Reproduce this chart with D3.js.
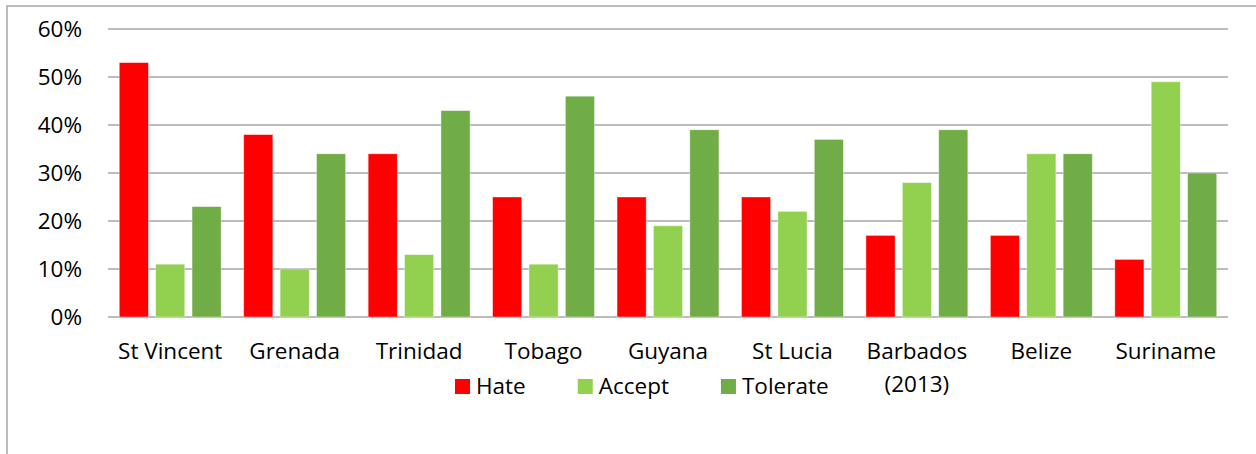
<!DOCTYPE html>
<html>
<head>
<meta charset="utf-8">
<script src="https://cdn.jsdelivr.net/npm/d3@7"></script>
<style>
  body { margin: 0; background: #fff; }
  svg { display: block; font-family: "Open Sans", sans-serif; }
</style>
</head>
<body>
<div id="chart"></div>
<script>
(function () {
    const width = 1256;
    const height = 454;

    // data
    const countries = ['St Vincent', 'Grenada', 'Trinidad', 'Tobago', 'Guyana', 'St Lucia', 'Barbados\n(2013)', 'Belize', 'Suriname'];
    const seriesNames = ['Hate', 'Accept', 'Tolerate'];
    const hate = [53, 38, 34, 25, 25, 25, 17, 17, 12];
    const accept = [11, 10, 13, 11, 19, 22, 28, 34, 49];
    const tolerate = [23, 34, 43, 46, 39, 37, 39, 34, 30];
    const yTicks = [0, 10, 20, 30, 40, 50, 60];
    const colors = ['#ff0000', '#92d050', '#70ad47'];

    const seriesValues = [hate, accept, tolerate];
    const rows = countries.map((c, i) => ({
        country: c,
        values: seriesNames.map((s, j) => ({ key: s, value: seriesValues[j][i] }))
    }));

    const plot = { left: 108, right: 1228, top: 29, bottom: 317 };
    const fontSize = 22.5;

    const svg = d3.select('#chart').append('svg')
        .attr('width', width)
        .attr('height', height);

    // chart border
    svg.append('rect')
        .attr('x', 7).attr('y', 6)
        .attr('width', width + 20).attr('height', height + 20)
        .attr('fill', 'none')
        .attr('stroke', '#a6a6a6')
        .attr('stroke-width', 1.5);

    const x0 = d3.scaleBand()
        .domain(countries)
        .range([plot.left, plot.right])
        .paddingInner(0).paddingOuter(0);

    const x1 = d3.scaleBand()
        .domain(seriesNames)
        .range([0, x0.bandwidth()])
        .paddingInner(0.2)
        .paddingOuter(0.31);

    const y = d3.scaleLinear()
        .domain([0, 60])
        .range([plot.bottom, plot.top]);

    // gridlines
    svg.append('g').selectAll('line')
        .data(yTicks)
        .enter().append('line')
        .attr('x1', plot.left).attr('x2', plot.right)
        .attr('y1', d => y(d)).attr('y2', d => y(d))
        .attr('stroke', '#a6a6a6')
        .attr('stroke-width', 1.5);

    // y labels
    svg.append('g').selectAll('text')
        .data(yTicks)
        .enter().append('text')
        .attr('x', 82)
        .attr('y', d => y(d))
        .attr('dy', '0.35em')
        .attr('text-anchor', 'end')
        .attr('font-size', fontSize)
        .attr('fill', '#000')
        .text(d => d + '%');

    // bars
    const groups = svg.append('g').selectAll('g')
        .data(rows)
        .enter().append('g')
        .attr('transform', d => `translate(${x0(d.country)},0)`);

    groups.selectAll('rect')
        .data(d => d.values)
        .enter().append('rect')
        .attr('x', d => x1(d.key))
        .attr('width', x1.bandwidth())
        .attr('y', d => y(d.value))
        .attr('height', d => y(0) - y(d.value))
        .attr('fill', (d, i) => colors[i])
        .attr('stroke', 'rgba(255,255,255,0.5)')
        .attr('stroke-width', 0.75);

    // category labels
    const catLabels = svg.append('g').selectAll('text')
        .data(countries)
        .enter().append('text')
        .attr('x', d => x0(d) + x0.bandwidth() / 2)
        .attr('y', 359)
        .attr('text-anchor', 'middle')
        .attr('font-size', fontSize)
        .attr('fill', '#000');

    catLabels.selectAll('tspan')
        .data(d => d.split('\n'))
        .enter().append('tspan')
        .attr('x', function () { return d3.select(this.parentNode).attr('x'); })
        .attr('dy', (d, i) => i === 0 ? 0 : 33)
        .text(d => d);

    // legend
    const legend = svg.append('g').attr('transform', 'translate(455,379)');
    let lx = 0;
    seriesNames.forEach((s, i) => {
        const item = legend.append('g').attr('transform', `translate(${lx},0)`);
        item.append('rect')
            .attr('width', 15).attr('height', 15)
            .attr('fill', colors[i]);
        const t = item.append('text')
            .attr('x', 21)
            .attr('y', 7.5)
            .attr('dy', '0.35em')
            .attr('font-size', fontSize)
            .attr('fill', '#000')
            .text(s);
        lx += 21 + t.node().getComputedTextLength() + 52;
    });
})();
</script>
</body>
</html>
